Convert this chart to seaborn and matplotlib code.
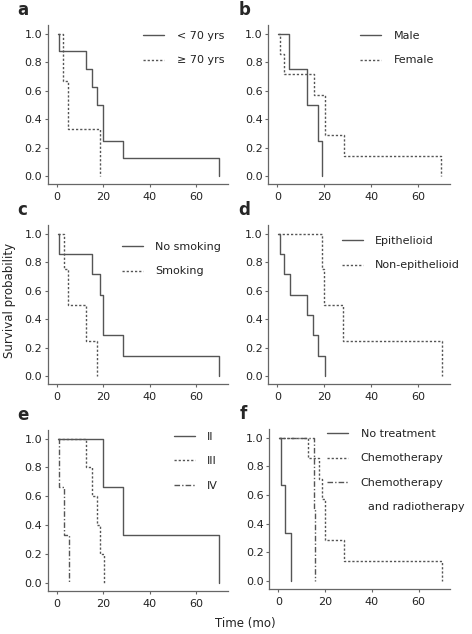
import seaborn as sns, matplotlib.pyplot as plt, pandas as pd
from matplotlib.lines import Line2D

# Kaplan-Meier curves (time in months, survival after each event)
a_young_t = [0.7, 1, 12.6, 15.1, 17.1, 19.7, 28.3, 69.7]
a_young_s = [1.0, 0.875, 0.75, 0.625, 0.5, 0.25, 0.125, 0.0]
a_old_t = [0.7, 2.6, 4.9, 18.6]
a_old_s = [1.0, 0.667, 0.333, 0.0]

b_male_t = [0.4, 5.0, 12.7, 17.4, 19.0]
b_male_s = [1.0, 0.75, 0.5, 0.25, 0.0]
b_female_t = [0.4, 0.9, 3.0, 15.4, 20.1, 28.4, 69.9]
b_female_s = [1.0, 0.857, 0.714, 0.571, 0.286, 0.143, 0.0]

c_nosmoke_t = [0.7, 1.1, 15.2, 18.4, 19.8, 28.4, 69.7]
c_nosmoke_s = [1.0, 0.857, 0.714, 0.571, 0.286, 0.143, 0.0]
c_smoke_t = [0.7, 2.9, 4.9, 12.6, 17.2]
c_smoke_s = [1.0, 0.75, 0.5, 0.25, 0.0]

d_epi_t = [0.4, 0.9, 3.0, 5.2, 12.6, 15.2, 17.2, 20.1]
d_epi_s = [1.0, 0.857, 0.714, 0.571, 0.429, 0.286, 0.143, 0.0]
d_nonepi_t = [0.4, 18.8, 20.0, 28.1, 70.0]
d_nonepi_s = [1.0, 0.75, 0.5, 0.25, 0.0]

e_ii_t = [0.4, 19.8, 28.4, 69.7]
e_ii_s = [1.0, 0.667, 0.333, 0.0]
e_iii_t = [0.4, 12.6, 15.2, 17.2, 18.6, 20.3]
e_iii_s = [1.0, 0.8, 0.6, 0.4, 0.2, 0.0]
e_iv_t = [0.4, 1.1, 2.9, 5.1]
e_iv_s = [1.0, 0.667, 0.333, 0.0]

f_none_t = [0.4, 0.9, 3.0, 5.2]
f_none_s = [1.0, 0.667, 0.333, 0.0]
f_chemo_t = [0.4, 12.6, 17.2, 18.8, 20.0, 28.1, 70.0]
f_chemo_s = [1.0, 0.857, 0.714, 0.571, 0.286, 0.143, 0.0]
f_chemorad_t = [0.4, 15.2, 15.6]
f_chemorad_s = [1.0, 0.5, 0.0]

sns.set_style("ticks")
plt.rcParams["font.family"] = ["DejaVu Sans"]

GREY = "#555555"
STYLES = {"solid": "-", "dot": (0, (1.6, 1.4)), "dashdot": (0, (4, 1.5, 1, 1.5))}

panels = [
    ("a", [(a_young_t, a_young_s, "< 70 yrs", "solid"), (a_old_t, a_old_s, "≥ 70 yrs", "dot")],
     (47.7, 25, 228, 184), (0.53, 0.962), None),
    ("b", [(b_male_t, b_male_s, "Male", "solid"), (b_female_t, b_female_s, "Female", "dot")],
     (268.3, 25, 450, 184), (0.505, 0.962), None),
    ("c", [(c_nosmoke_t, c_nosmoke_s, "No smoking", "solid"), (c_smoke_t, c_smoke_s, "Smoking", "dot")],
     (47.7, 225, 228, 384), (0.41, 0.893), None),
    ("d", [(d_epi_t, d_epi_s, "Epithelioid", "solid"), (d_nonepi_t, d_nonepi_s, "Non-epithelioid", "dot")],
     (268.3, 225, 450, 384), (0.405, 0.931), None),
    ("e", [(e_ii_t, e_ii_s, "II", "solid"), (e_iii_t, e_iii_s, "III", "dot"), (e_iv_t, e_iv_s, "IV", "dashdot")],
     (47.7, 430, 228, 590.7), (0.70, 0.988), None),
    ("f", [(f_none_t, f_none_s, "No treatment", "solid"), (f_chemo_t, f_chemo_s, "Chemotherapy", "dot"),
           (f_chemorad_t, f_chemorad_s, "Chemotherapy", "dashdot")],
     (269.3, 429, 450.3, 589), (0.32, 1.0), "  and radiotherapy"),
]

W, H = 472, 634
fig = plt.figure(figsize=(W / 100, H / 100), dpi=100)

for letter, curves, (l, t, r, b), anchor, extra in panels:
    ax = fig.add_axes([l / W, 1 - b / H, (r - l) / W, (b - t) / H])
    for times, surv, label, style in curves:
        df = pd.DataFrame({"time": times, "surv": surv})
        sns.lineplot(data=df, x="time", y="surv", ax=ax, estimator=None, sort=False,
                     drawstyle="steps-post", color=GREY, lw=1.0,
                     linestyle=STYLES[style], label=label)
    ax.set_xlim(-3.9, 73.6)
    ax.set_ylim(-0.055, 1.06)
    ax.set_xticks([0, 20, 40, 60])
    ax.set_yticks([0, 0.2, 0.4, 0.6, 0.8, 1.0])
    ax.set_yticklabels(["0.0", "0.2", "0.4", "0.6", "0.8", "1.0"])
    ax.set_xlabel("")
    ax.set_ylabel("")
    sns.despine(ax=ax)
    for sp in ("left", "bottom"):
        ax.spines[sp].set_color("#666666")
        ax.spines[sp].set_linewidth(0.9)
    ax.tick_params(axis="both", labelsize=8, colors="#666666", labelcolor="#222222",
                   length=2, width=0.8)
    ax.tick_params(axis="x", pad=4)
    ax.tick_params(axis="y", pad=2)
    handles, labels = ax.get_legend_handles_labels()
    if extra:
        # second line of the last label, without a line sample
        handles.append(Line2D([], [], alpha=0))
        labels.append(extra)
    leg = ax.legend(handles, labels, loc="upper left", bbox_to_anchor=anchor, frameon=False,
                    fontsize=8, handlelength=1.9, handletextpad=1.1, labelspacing=1.3,
                    borderaxespad=0, borderpad=0)
    for txt in leg.get_texts():
        txt.set_color("#222222")
    fig.text((l - 30) / W, 1 - (t - 15) / H, letter, fontsize=12, fontweight="bold",
             ha="left", va="center")

fig.text(10 / W, 1 - 300 / H, "Survival probability", rotation=90, fontsize=8.5,
         ha="center", va="center", color="#222222")
fig.text(245 / W, 1 - 623 / H, "Time (mo)", fontsize=8.5, ha="center", va="center",
         color="#222222")

fig.savefig("out.png", dpi=100)
